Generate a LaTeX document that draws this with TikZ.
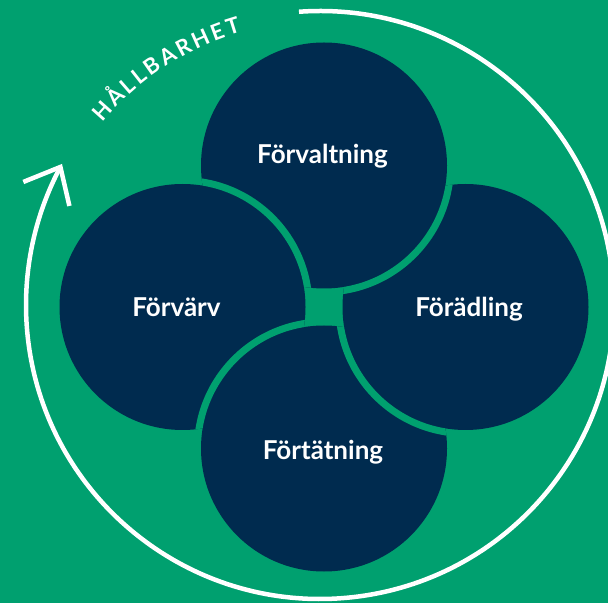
\documentclass[tikz,border=0pt]{standalone}
\usepackage{fontspec}
\setmainfont{Lato}
\usetikzlibrary{calc}
\definecolor{bggreen}{HTML}{00A06F}
\definecolor{navy}{HTML}{002B4F}
\newlength\chw
\newcommand\ringfont{\fontsize{22}{26}\selectfont\bfseries}
% measure the letters of the ring text and store their angles
\gdef\ringtot{0}
\foreach \ch in {H,Å,L,L,B,A,R,H,E,T}{%
  \settowidth{\chw}{\ringfont\ch}%
  \pgfmathsetmacro\tmp{\ringtot+\chw+3.2}%
  \xdef\ringtot{\tmp}}
\pgfmathsetmacro\ringstart{-(\ringtot-3.2)/2}
\xdef\ringpos{\ringstart}
\foreach \ch [count=\i] in {H,Å,L,L,B,A,R,H,E,T}{%
  \settowidth{\chw}{\ringfont\ch}%
  \pgfmathsetmacro\tmp{123.05-deg((\ringpos+\chw/2)/288)}%
  \expandafter\xdef\csname ringang\i\endcsname{\tmp}%
  \pgfmathsetmacro\tmp{\ringpos+\chw+3.2}%
  \xdef\ringpos{\tmp}}
\begin{document}
\begin{tikzpicture}[x=1pt,y=1pt,
  disc/.style={fill=navy},
  rim/.style={draw=bggreen, line width=7pt},
  lbl/.style={text=white, font=\fontsize{26}{31}\selectfont\bfseries, anchor=base, inner sep=0pt},
  ringtext/.style={text=white, font=\ringfont, anchor=base, inner sep=0pt},
  ring/.style={draw=white, line width=4.5pt}]
\useasboundingbox (0,0) rectangle (608,603);
\fill[bggreen] (0,0) rectangle (608,603);
% circle centres
\coordinate (T) at (324,437.5);
\coordinate (B) at (324,154.5);
\coordinate (L) at (182.5,296);
\coordinate (R) at (465.5,296);
\foreach \c in {T,B,L,R} \fill[disc] (\c) circle (123);
% pinwheel borders: upper/lower
\foreach \u/\l in {L/T, T/R, R/B, B/L} {
  \begin{scope}
    \clip (\l) circle (123);
    \draw[rim] (\u) circle (126.5);
  \end{scope}
}
% ring with arrow
\coordinate (O) at (320,298);
\draw[ring] ($(O)+(94.1:294)$) arc[start angle=94.1, end angle=-208, radius=294];
\coordinate (tip) at ($(O)+(152:294)$);
\coordinate (armA) at ($(tip)+(202:40)$);
\coordinate (armB) at ($(tip)+(283:40)$);
\draw[ring, line join=miter] (armA) -- (tip) -- (armB);
% labels
\node[lbl] (n1) at (322.5,439) {Förvaltning};
\node[lbl] (n2) at (176.5,286) {Förvärv};
\node[lbl] (n3) at (469,286) {Förädling};
\node[lbl] (n4) at (323,143) {Förtätning};
% ring text
\foreach \ch [count=\i] in {H,Å,L,L,B,A,R,H,E,T}{%
  \edef\ang{\csname ringang\i\endcsname}%
  \node[ringtext, rotate=\ang-90] (h\i) at ($(O)+(\ang:284)$) {\ch};}
\end{tikzpicture}
\end{document}
